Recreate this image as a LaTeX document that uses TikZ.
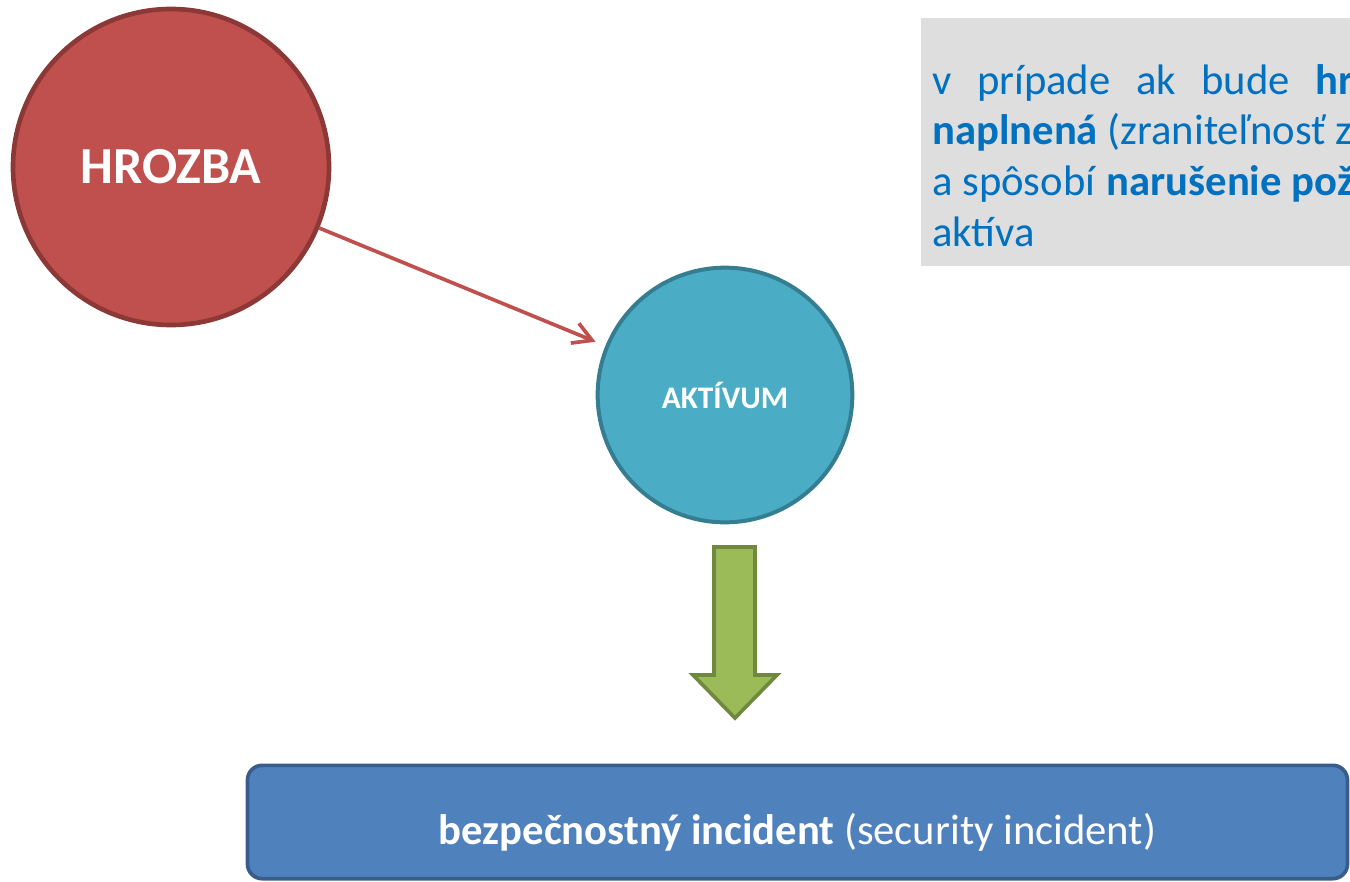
\documentclass[tikz,border=0pt]{standalone}
\usepackage{fontspec}
\setmainfont{Carlito}
\usetikzlibrary{arrows.meta}
\definecolor{threatred}{HTML}{C0504D}
\definecolor{threatdark}{HTML}{8C3836}
\definecolor{assetblue}{HTML}{4BACC6}
\definecolor{assetdark}{HTML}{357D91}
\definecolor{flowgreen}{HTML}{9BBB59}
\definecolor{flowdark}{HTML}{71893F}
\definecolor{incblue}{HTML}{4F81BD}
\definecolor{incdark}{HTML}{385D8A}
\definecolor{infobg}{HTML}{DEDEDE}
\definecolor{infoblue}{HTML}{0070C0}

\begin{document}
\begin{tikzpicture}[x=0.75pt, y=-0.75pt,
  threat/.style={circle, fill=threatred, draw=threatdark, line width=3.5pt, minimum size=237pt, inner sep=0pt, text=white, font=\bfseries\fontsize{39}{46}\selectfont},
  asset/.style={circle, fill=assetblue, draw=assetdark, line width=3pt, minimum size=191pt, inner sep=0pt, text=white, font=\bfseries\fontsize{23.5}{28}\selectfont},
  incident/.style={rectangle, rounded corners=11pt, fill=incblue, draw=incdark, line width=2.75pt, minimum width=825pt, minimum height=85pt, text=white, text height=41.6pt, text depth=7.9pt, font=\fontsize{32}{38}\selectfont},
  infotext/.style={text=infoblue, align=left, inner sep=0pt, font=\fontsize{32}{38}\selectfont},
  blockarrow/.style={fill=flowgreen, draw=flowdark, line width=2.75pt},
  hit/.style={-{Straight Barb[length=14pt,width=16pt]}, draw=threatred, line width=2.75pt, shorten >=8pt}
]
  \clip (0,0) rectangle (1350,882);
  % text box on the right
  \fill [infobg] (921,18) rectangle (1360,266);
  \node [infotext, anchor=north west] (info) at (932,64)
    {\makebox[316pt][s]{v prípade ak bude \textbf{hr}}\\
     \textbf{naplnená} (zraniteľnosť z\\
     a spôsobí \textbf{narušenie pož}\\
     aktíva};

  \node [threat] (hrozba) at (171,167) {HROZBA};
  \node [asset] (aktivum) at (725,395) {AKTÍVUM};
  \node [incident] (incident) at (797.5,822) {\textbf{bezpečnostný incident} (security incident)};

  \path (hrozba) edge [hit] (aktivum);

  % block arrow down to the incident
  \draw [blockarrow] (714,547) -- (755,547) -- (755,675) -- (777,675) -- (735,718) -- (693,675) -- (714,675) -- cycle;
\end{tikzpicture}
\end{document}
